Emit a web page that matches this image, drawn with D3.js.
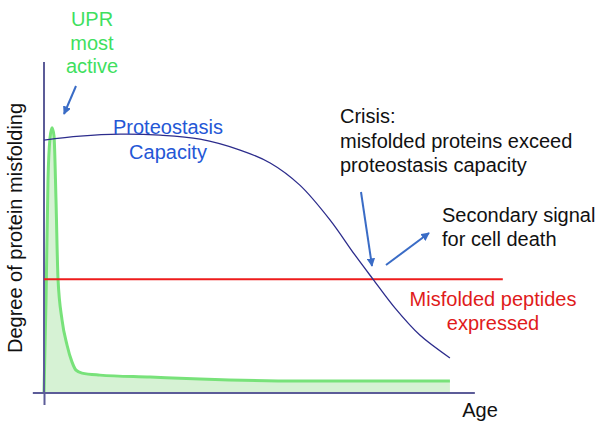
<!DOCTYPE html>
<html><head><meta charset="utf-8">
<script src="https://cdn.jsdelivr.net/npm/d3@7"></script>
<style>html,body{margin:0;padding:0;background:#fff;}svg{display:block;font-family:"Liberation Sans",Arial,sans-serif;}</style>
</head><body>
<svg id="chart" width="604" height="430"></svg>
<script>
// Data (age 0..100, misfolding 0..100)
const capacityAge = [0, 8.4, 17.7, 27, 36.3, 45.6, 52.6, 59.5, 66.5, 72.3, 76.5, 81.6, 87.4, 94.4];
const capacityVal = [76.4, 77.6, 78.2, 77.9, 76.7, 73.4, 69.5, 62.8, 52.3, 41.7, 34.4, 25.7, 17.5, 10.6];
const uprAge = [0, 0.47, 0.93, 1.4, 1.86, 2.33, 2.79, 3.26, 4.19, 5.35, 6.5, 7.44, 8.84, 13, 24.7, 36.3, 59.5, 94.4];
const uprVal = [0, 28.1, 64.4, 77, 80.1, 77.6, 58.3, 34.4, 22.1, 14.5, 9.4, 6.9, 6.0, 5.4, 4.8, 4.2, 3.6, 3.6];
const misfoldAge = [0, 106.7];
const misfoldVal = [34.4, 34.4];
const xLabel = "Age";
const yLabel = "Degree of protein misfolding";

const svg = d3.select("#chart");
const x = d3.scaleLinear().domain([0, 100]).range([44, 474]);
const y = d3.scaleLinear().domain([0, 100]).range([393, 62]);

const defs = svg.append("defs");
defs.append("marker").attr("id","ah").attr("viewBox","0 0 10 10").attr("refX",9).attr("refY",5)
  .attr("markerWidth",4.2).attr("markerHeight",4.2).attr("markerUnits","strokeWidth").attr("orient","auto")
  .append("path").attr("d","M0,0 L10,5 L0,10 z").attr("fill","#3a6cc6");

// UPR area + line
const upr = uprAge.map((a,i)=>({a, v: uprVal[i]}));
svg.append("path").datum(upr)
  .attr("d", d3.area().x(d=>x(d.a)).y0(y(0)).y1(d=>y(d.v)).curve(d3.curveMonotoneX))
  .attr("fill","#d6f2d4");
svg.append("path").datum(upr)
  .attr("d", d3.line().x(d=>x(d.a)).y(d=>y(d.v)).curve(d3.curveMonotoneX))
  .attr("fill","none").attr("stroke","#78e27a").attr("stroke-width",3).attr("stroke-linejoin","round");

// axes
const axG = svg.append("g");
axG.append("line").attr("x1",x(-2.6)).attr("x2",x(100.2)).attr("y1",y(0)).attr("y2",y(0))
  .attr("stroke","#5c5c98").attr("stroke-width",2);
axG.append("line").attr("x1",x(0)).attr("x2",x(0)).attr("y1",y(100)).attr("y2",y(0))
  .attr("stroke","#5c5c98").attr("stroke-width",2);
const xa = svg.append("g").attr("transform",`translate(0,${y(0)})`)
  .call(d3.axisBottom(x).tickValues([0]).tickSize(12).tickFormat(""));
xa.select(".domain").remove();
xa.selectAll(".tick line").attr("stroke","#5c5c98").attr("stroke-width",2);

// misfolded line
svg.append("path").datum(misfoldAge.map((a,i)=>({a, v: misfoldVal[i]})))
  .attr("d", d3.line().x(d=>x(d.a)).y(d=>y(d.v)))
  .attr("stroke","#ee1c1c").attr("stroke-width",2).attr("fill","none");

// capacity line
svg.append("path").datum(capacityAge.map((a,i)=>({a, v: capacityVal[i]})))
  .attr("d", d3.line().x(d=>x(d.a)).y(d=>y(d.v)).curve(d3.curveCatmullRom))
  .attr("stroke","#2c2c8c").attr("stroke-width",1.3).attr("fill","none");

// labels
function txt(lines, cx, y0, dy, color, anchor){
  const t = svg.append("text").attr("fill",color).attr("font-size",20).attr("text-anchor",anchor);
  lines.forEach((l,i)=>t.append("tspan").attr("x",cx).attr("y",y0+i*dy).text(l));
}
txt(["UPR","most","active"], 92, 26, 23.5, "#3fdf5f", "middle");
txt(["Proteostasis","Capacity"], 168, 134, 25, "#2457d6", "middle");
txt(["Crisis:","misfolded proteins exceed","proteostasis capacity"], 340, 123, 24.5, "#111", "start");
txt(["Secondary signal","for cell death"], 442, 222, 23.5, "#111", "start");
txt(["Misfolded peptides","expressed"], 493, 306, 23.5, "#e01b1b", "middle");
txt([xLabel], 480, 417, 0, "#111", "middle");
svg.append("text").attr("transform","translate(22,228) rotate(-90)").attr("text-anchor","middle")
  .attr("font-size",20).attr("fill","#111").text(yLabel);

// arrows
const arrows = [[76,86,64,114],[361,192,372,266],[386,265,429,233]];
arrows.forEach(a=>svg.append("line").attr("x1",a[0]).attr("y1",a[1]).attr("x2",a[2]).attr("y2",a[3])
  .attr("stroke","#3a6cc6").attr("stroke-width",2).attr("marker-end","url(#ah)"));
</script>
</body></html>
